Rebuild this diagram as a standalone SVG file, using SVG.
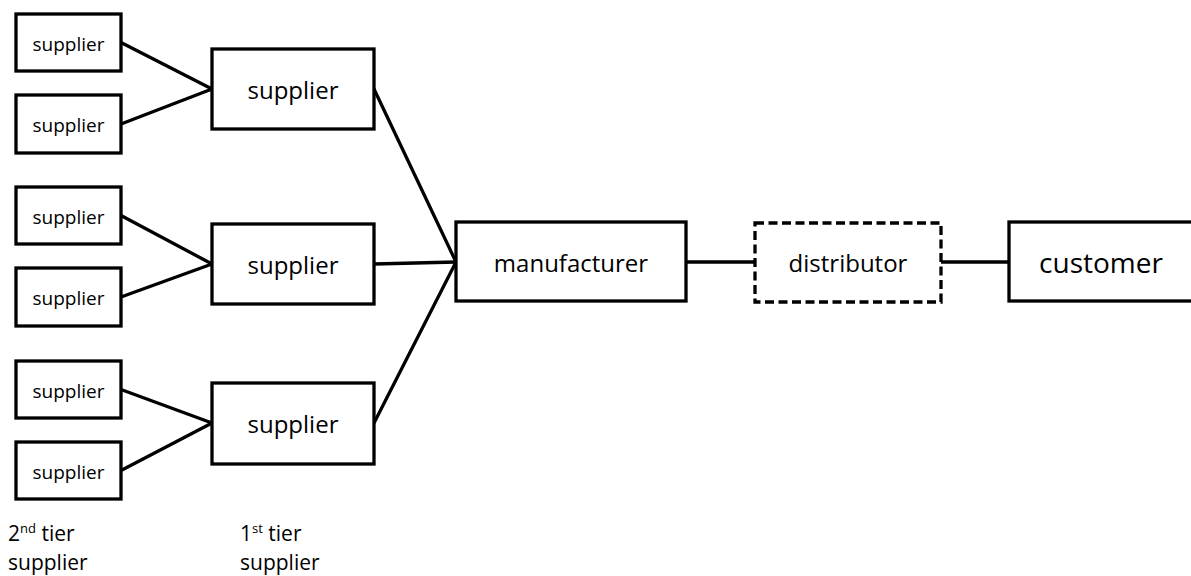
<svg xmlns="http://www.w3.org/2000/svg" width="1191" height="576" viewBox="0 0 1191 576">
  <style>
    .box { fill: #fff; stroke: #000; stroke-width: 3.3; }
    .dash { fill: #fff; stroke: #000; stroke-width: 3.3; stroke-dasharray: 9 4.5; }
    .link { stroke: #000; stroke-width: 3.3; fill: none; stroke-linecap: round; }
    text { font-family: "Open Sans", "Liberation Sans", sans-serif; fill: #000; }
    .s { font-size: 19px; text-anchor: middle; }
    .m { font-size: 24px; text-anchor: middle; }
    .l { font-size: 28px; text-anchor: middle; }
    .cap { font-size: 21px; }
  </style>
  <rect width="1191" height="576" fill="#fff"/>

  <!-- connectors -->
  <g id="connectors">
    <line class="link" x1="121" y1="42.5" x2="212" y2="89"/>
    <line class="link" x1="121" y1="124" x2="212" y2="89"/>
    <line class="link" x1="121" y1="215.5" x2="212" y2="264"/>
    <line class="link" x1="121" y1="297" x2="212" y2="264"/>
    <line class="link" x1="121" y1="389.5" x2="212" y2="423"/>
    <line class="link" x1="121" y1="470.5" x2="212" y2="423"/>
    <line class="link" x1="374" y1="89" x2="456" y2="262"/>
    <line class="link" x1="374" y1="264" x2="456" y2="262"/>
    <line class="link" x1="374" y1="423" x2="456" y2="262"/>
    <line class="link" x1="686" y1="262" x2="755" y2="262"/>
    <line class="link" x1="941" y1="262" x2="1009" y2="262"/>
  </g>

  <!-- second tier suppliers -->
  <g id="s2a"><rect class="box" x="16" y="14" width="105" height="57"/><text class="s" x="68.5" y="50.5">supplier</text></g>
  <g id="s2b"><rect class="box" x="16" y="95" width="105" height="58"/><text class="s" x="68.5" y="131.5">supplier</text></g>
  <g id="s2c"><rect class="box" x="16" y="187" width="105" height="57"/><text class="s" x="68.5" y="223.5">supplier</text></g>
  <g id="s2d"><rect class="box" x="16" y="268" width="105" height="58"/><text class="s" x="68.5" y="305">supplier</text></g>
  <g id="s2e"><rect class="box" x="16" y="361" width="105" height="57"/><text class="s" x="68.5" y="397.5">supplier</text></g>
  <g id="s2f"><rect class="box" x="16" y="442" width="105" height="57"/><text class="s" x="68.5" y="478.5">supplier</text></g>

  <!-- first tier suppliers -->
  <g id="s1a"><rect class="box" x="212" y="49" width="162" height="80"/><text class="m" x="293" y="99">supplier</text></g>
  <g id="s1b"><rect class="box" x="212" y="224" width="162" height="80"/><text class="m" x="293" y="274">supplier</text></g>
  <g id="s1c"><rect class="box" x="212" y="383" width="162" height="81"/><text class="m" x="293" y="433">supplier</text></g>

  <!-- manufacturer -->
  <g id="manufacturer"><rect class="box" x="456" y="222" width="230" height="79"/><text class="m" x="571" y="272">manufacturer</text></g>

  <!-- distributor (optional stage, dashed) -->
  <g id="distributor"><rect class="dash" x="755" y="223" width="186" height="79"/><text class="m" x="848" y="272">distributor</text></g>

  <!-- customer -->
  <g id="customer"><rect class="box" x="1009" y="222" width="200" height="79"/><text class="l" x="1101" y="273">customer</text></g>

  <!-- tier captions -->
  <g id="caption-tier2">
    <text class="cap" x="8" y="541">2<tspan font-size="13" dy="-8">nd</tspan><tspan dy="8"> tier</tspan></text>
    <text class="cap" x="8" y="570">supplier</text>
  </g>
  <g id="caption-tier1">
    <text class="cap" x="240" y="541">1<tspan font-size="13" dy="-8">st</tspan><tspan dy="8"> tier</tspan></text>
    <text class="cap" x="240" y="570">supplier</text>
  </g>
</svg>
